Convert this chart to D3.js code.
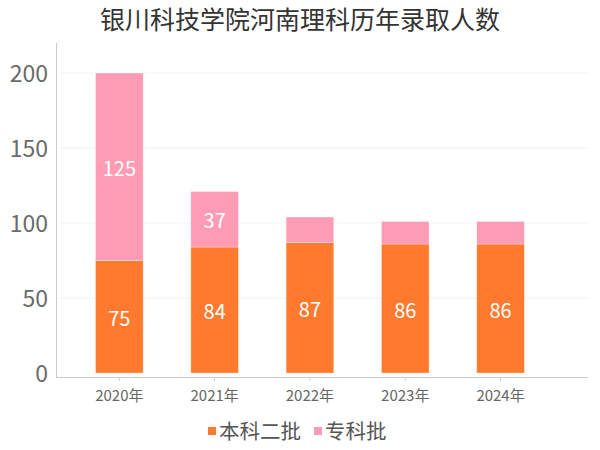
<!DOCTYPE html>
<html><head><meta charset="utf-8">
<script src="https://cdn.jsdelivr.net/npm/d3@7"></script>
<style>body{margin:0;background:#fff;font-family:"Noto Sans CJK SC","Noto Sans",sans-serif;}</style>
</head><body>
<svg id="c" width="600" height="450"></svg>
<script>
const title = "银川科技学院河南理科历年录取人数";
const categories = ["2020年","2021年","2022年","2023年","2024年"];
const seriesNames = ["本科二批","专科批"];
const benke2 = [75, 84, 87, 86, 86];
const zhuanke = [125, 37, 17, 15, 15];
const yTicks = [0, 50, 100, 150, 200];
const colors = ["#FF7A2F", "#FF9BB5"];

const svg = d3.select("#c");
const font = '"Noto Sans CJK SC","Noto Sans",sans-serif';
const x = d3.scaleBand().domain(categories).range([71.7, 548.2]).paddingInner(0.5).paddingOuter(0.25);
const y = d3.scaleLinear().domain([0, 220]).range([373, 43]);

// grid
svg.append("g").selectAll("line").data(yTicks.slice(1)).join("line")
  .attr("x1", 60).attr("x2", 588).attr("y1", d => y(d)).attr("y2", d => y(d))
  .attr("stroke", "#f2f2f2").attr("stroke-width", 1);

// y axis
svg.append("line").attr("x1", 56.5).attr("x2", 56.5).attr("y1", y(220)).attr("y2", 378)
  .attr("stroke", "#ccc");
svg.append("g").selectAll("text").data(yTicks).join("text")
  .attr("x", 48).attr("y", d => y(d)).attr("dy", "0.37em").attr("text-anchor", "end")
  .attr("font-family", font).attr("font-size", 23).attr("fill", "#6a6a6a").text(d => d);

// x axis
svg.append("line").attr("x1", 56).attr("x2", 588).attr("y1", 377.5).attr("y2", 377.5).attr("stroke", "#ccc");
svg.append("g").selectAll("line").data(categories).join("line")
  .attr("x1", d => x(d) + x.bandwidth()/2).attr("x2", d => x(d) + x.bandwidth()/2)
  .attr("y1", 378).attr("y2", 381).attr("stroke", "#ccc");
svg.append("g").selectAll("text").data(categories).join("text")
  .attr("x", d => x(d) + x.bandwidth()/2).attr("y", 401).attr("text-anchor", "middle")
  .attr("font-family", font).attr("font-size", 15).attr("fill", "#666").text(d => d);

// stacked bars
const rows = categories.map((c, i) => ({cat: c, s0: benke2[i], s1: zhuanke[i]}));
const stack = d3.stack().keys(["s0", "s1"])(rows);
stack.forEach((layer, li) => {
  const g = svg.append("g");
  g.selectAll("rect").data(layer).join("rect")
    .attr("x", d => x(d.data.cat)).attr("width", x.bandwidth())
    .attr("y", d => y(d[1])).attr("height", d => y(d[0]) - y(d[1]))
    .attr("fill", colors[li]).attr("stroke", "rgba(255,255,255,0.4)").attr("stroke-width", 0.8);
  g.selectAll("text").data(layer.filter(d => (d[1] - d[0]) >= 30)).join("text")
    .attr("x", d => x(d.data.cat) + x.bandwidth()/2)
    .attr("y", d => (y(d[0]) + y(d[1])) / 2).attr("dy", "0.45em")
    .attr("text-anchor", "middle").attr("font-family", font).attr("font-size", 20)
    .attr("fill", "#fff").text(d => d[1] - d[0]);
});

// title
svg.append("text").attr("x", 300).attr("y", 29).attr("text-anchor", "middle")
  .attr("font-family", font).attr("font-size", 25).attr("fill", "#333").text(title);

// legend
const legendX = [208, 314];
seriesNames.forEach((n, i) => {
  svg.append("rect").attr("x", legendX[i]).attr("y", 427).attr("width", 8).attr("height", 8).attr("fill", colors[i]);
  svg.append("text").attr("x", legendX[i] + 11).attr("y", 439).attr("font-family", font)
    .attr("font-size", 20.5).attr("fill", "#555").text(n);
});
</script>
</body></html>
